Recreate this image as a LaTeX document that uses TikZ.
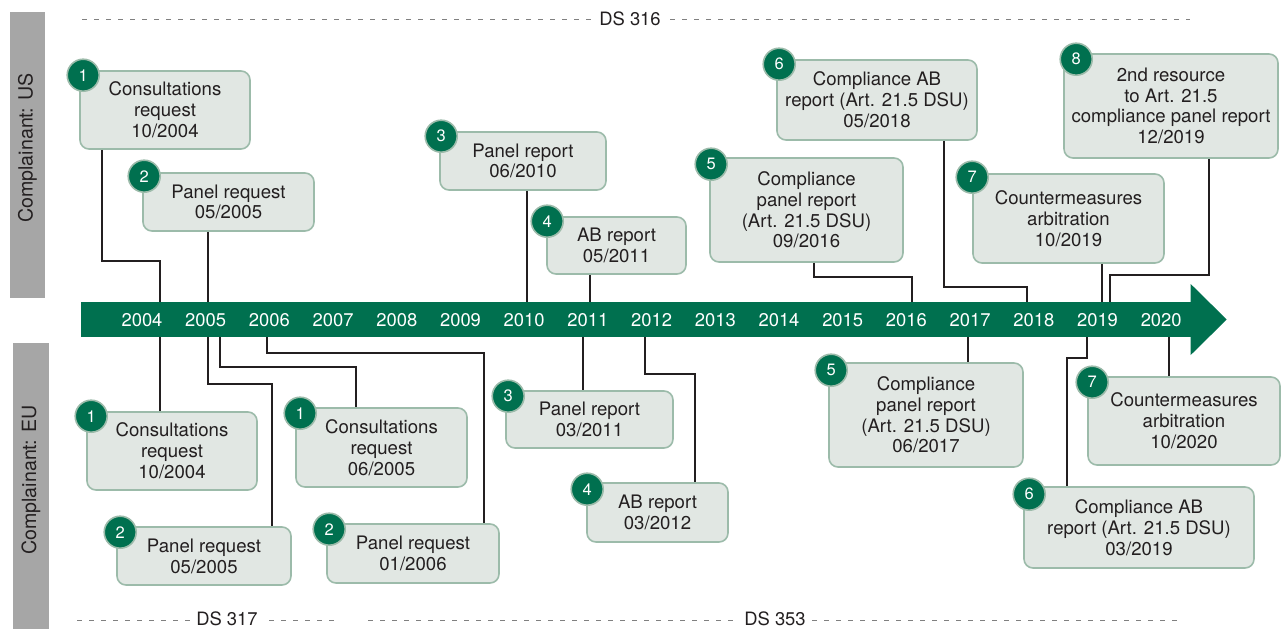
\documentclass[tikz,border=0pt]{standalone}
\usepackage{fontspec}
\setmainfont{TeX Gyre Heros}
\usepackage{tikz}

\definecolor{wtogreen}{HTML}{00704F}
\definecolor{boxfill}{HTML}{E1E7E3}
\definecolor{boxline}{HTML}{9CBBAA}
\definecolor{sidegray}{HTML}{A6A6A6}
\definecolor{inkgray}{HTML}{231F20}

\begin{document}
\begin{tikzpicture}[x=1pt,y=-1pt,
    event/.style 2 args={draw=boxline,fill=boxfill,line width=1.6pt,
      rounded corners=9pt,align=center,inner sep=0pt,
      minimum width=#1pt,minimum height=#2pt,text=inkgray,
      font=\fontsize{18.6}{20.8}\selectfont},
    badge/.style={circle,draw=boxline,fill=wtogreen,line width=1.6pt,
      minimum size=32pt,inner sep=0pt,text=white,
      font=\fontsize{16.5}{16.5}\selectfont},
    link/.style={draw=inkgray,line width=1.1pt},
    year/.style={text=white,font=\fontsize{18.4}{18.4}\selectfont},
    side/.style={fill=sidegray,rotate=90,inner sep=0pt,text=inkgray,
      font=\fontsize{19.6}{19.6}\selectfont},
    case/.style={draw=gray,line width=0.9pt,dash pattern=on 5pt off 7pt},
    caselabel/.style={fill=white,inner xsep=5pt,inner ysep=0pt,text=inkgray,
      font=\fontsize{18.4}{18.4}\selectfont}]
  \useasboundingbox (0,0) rectangle (1284,629);

  % side bars
  \fill[sidegray] (10,12) rectangle (45,298);
  \fill[sidegray] (13,343) rectangle (49,629);
  \node[side] (us) at (27.5,148) {Complainant: US};
  \node[side] (eu) at (31,480) {Complainant: EU};

  % dispute numbers
  \coordinate (d316a) at (82,19);
  \coordinate (d316b) at (1190,19);
  \coordinate (d317a) at (77,620);
  \coordinate (d317b) at (335,620);
  \coordinate (d353a) at (368,620);
  \coordinate (d353b) at (1183,620);
  \draw[case] (d316a) -- (d316b);
  \draw[case] (d317a) -- (d317b);
  \draw[case] (d353a) -- (d353b);
  \node[caselabel] (ds316) at (630,19) {DS 316};
  \node[caselabel] (ds317) at (227,619) {DS 317};
  \node[caselabel] (ds353) at (775,619) {DS 353};

  % time line
  \node[fill=wtogreen,minimum width=1110pt,minimum height=35pt,inner sep=0pt] (tl) at (636,319.5) {};
  \fill[wtogreen] ([xshift=-0.5pt]tl.east) ++(0,-35.5) -- ++(36,35.5) -- ++(-36,35.5) -- cycle;
  \coordinate (top) at (tl.north);
  \coordinate (bot) at (tl.south);
  \foreach \yr [count=\i from 0] in {2004,...,2020}
    \node[year] (y\yr) at (142+63.7*\i,320) {\yr};

  % complainant: US
  \node[event={170}{78}] (u1) at (165,110) {Consultations\\request\\10/2004};
  \node[event={171}{58}] (u2) at (228.5,202) {Panel request\\05/2005};
  \node[event={166}{58}] (u3) at (523,161) {Panel report\\06/2010};
  \node[event={139}{57}] (u4) at (616.5,245.5) {AB report\\05/2011};
  \node[event={193}{104}] (u5) at (806.5,210) {Compliance\\panel report\\(Art. 21.5 DSU)\\09/2016};
  \node[event={200}{80}] (u6) at (877,100) {Compliance AB\\report (Art. 21.5 DSU)\\05/2018};
  \node[event={191}{89}] (u7) at (1068.5,218.5) {Countermeasures\\arbitration\\10/2019};
  \node[event={214}{104}] (u8) at (1171,106) {2nd resource\\to Art. 21.5\\compliance panel report\\12/2019};

  \node[badge] (bu1) at ([xshift=4pt,yshift=-5pt]u1.north west) {1};
  \node[badge] (bu2) at ([xshift=2pt,yshift=-4pt]u2.north west) {2};
  \node[badge] (bu3) at ([xshift=2pt,yshift=-5pt]u3.north west) {3};
  \node[badge] (bu4) at ([xshift=1pt,yshift=-5pt]u4.north west) {4};
  \node[badge] (bu5) at ([xshift=2pt,yshift=-7pt]u5.north west) {5};
  \node[badge] (bu6) at ([xshift=3pt,yshift=-5pt]u6.north west) {6};
  \node[badge] (bu7) at ([xshift=0pt,yshift=-4pt]u7.north west) {7};
  \node[badge] (bu8) at ([xshift=13pt,yshift=-6pt]u8.north west) {8};

  \draw[link] (u1.south -| 102,0) |- (160,261) -- (160,0 |- top);
  \draw[link] (u2.south -| 208,0) -- (208,0 |- top);
  \draw[link] (u3.south -| 527,0) -- (527,0 |- top);
  \draw[link] (u4.south -| 590,0) -- (590,0 |- top);
  \draw[link] (u5.south -| 814,0) |- (912,277) -- (912,0 |- top);
  \draw[link] (u6.south -| 944,0) |- (1027,287) -- (1027,0 |- top);
  \draw[link] (u7.south -| 1102,0) -- (1102,0 |- top);
  \draw[link] (u8.south -| 1209,0) |- (1110,275) -- (1110,0 |- top);

  % complainant: EU
  \node[event={170}{78}] (e1a) at (172,451) {Consultations\\request\\10/2004};
  \node[event={171}{79}] (e1b) at (381.5,447.5) {Consultations\\request\\06/2005};
  \node[event={174}{58}] (e2a) at (204,556) {Panel request\\05/2005};
  \node[event={172}{59}] (e2b) at (413,553.5) {Panel request\\01/2006};
  \node[event={167}{57}] (e3) at (589.5,419.5) {Panel report\\03/2011};
  \node[event={141}{59}] (e4) at (657.5,512.5) {AB report\\03/2012};
  \node[event={194}{104}] (e5) at (926,415) {Compliance\\panel report\\(Art. 21.5 DSU)\\06/2017};
  \node[event={230}{81}] (e6) at (1139,527.5) {Compliance AB\\report (Art. 21.5 DSU)\\03/2019};
  \node[event={192}{88}] (e7) at (1184,421) {Countermeasures\\arbitration\\10/2020};

  \node[badge] (be1a) at ([xshift=5pt,yshift=-5pt]e1a.north west) {1};
  \node[badge] (be1b) at ([xshift=5pt,yshift=-6pt]e1b.north west) {1};
  \node[badge] (be2a) at ([xshift=4pt,yshift=-6pt]e2a.north west) {2};
  \node[badge] (be2b) at ([xshift=3pt,yshift=-6pt]e2b.north west) {2};
  \node[badge] (be3) at ([xshift=3pt,yshift=-6pt]e3.north west) {3};
  \node[badge] (be4) at ([xshift=1pt,yshift=-7pt]e4.north west) {4};
  \node[badge] (be5) at ([xshift=3pt,yshift=-8pt]e5.north west) {5};
  \node[badge] (be6) at ([xshift=6pt,yshift=-8pt]e6.north west) {6};
  \node[badge] (be7) at ([xshift=5pt,yshift=-6pt]e7.north west) {7};

  \draw[link] (160,0 |- bot) -- (e1a.north -| 160,0);
  \draw[link] (208,0 |- bot) |- (272,384) -- (e2a.north -| 272,0);
  \draw[link] (220,0 |- bot) |- (356,367) -- (e1b.north -| 356,0);
  \draw[link] (267,0 |- bot) |- (484,353) -- (e2b.north -| 484,0);
  \draw[link] (583,0 |- bot) -- (e3.north -| 583,0);
  \draw[link] (645,0 |- bot) |- (695,374) -- (e4.north -| 695,0);
  \draw[link] (968,0 |- bot) -- (e5.north -| 968,0);
  \draw[link] (1087,0 |- bot) |- (1067,358) -- (e6.north -| 1067,0);
  \draw[link] (1169,0 |- bot) -- (e7.north -| 1169,0);
\end{tikzpicture}
\end{document}
